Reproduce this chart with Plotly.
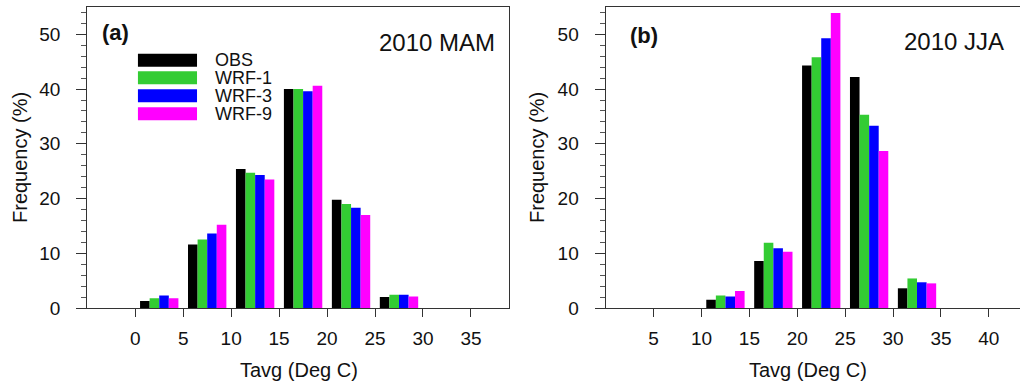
import plotly.graph_objects as go
from plotly.subplots import make_subplots

# Bin centres (Deg C) for the 5-degree temperature bins
bins_mam = [2.5, 7.5, 12.5, 17.5, 22.5, 27.5]
bins_jja = [12.5, 17.5, 22.5, 27.5, 32.5]

series_names = ["OBS", "WRF-1", "WRF-3", "WRF-9"]
series_colors = ["#000000", "#33cc33", "#0000ff", "#ff00ff"]

# Frequency (%) per bin, spring 2010
obs_mam = [1.3, 11.6, 25.4, 40.0, 19.8, 2.0]
wrf1_mam = [1.8, 12.5, 24.7, 40.0, 19.0, 2.4]
wrf3_mam = [2.3, 13.6, 24.3, 39.6, 18.3, 2.4]
wrf9_mam = [1.8, 15.2, 23.5, 40.6, 17.0, 2.1]

# Frequency (%) per bin, summer 2010
obs_jja = [1.5, 8.6, 44.3, 42.2, 3.6]
wrf1_jja = [2.3, 11.9, 45.8, 35.3, 5.4]
wrf3_jja = [2.1, 10.9, 49.3, 33.3, 4.7]
wrf9_jja = [3.1, 10.3, 53.9, 28.7, 4.5]

mam_series = [obs_mam, wrf1_mam, wrf3_mam, wrf9_mam]
jja_series = [obs_jja, wrf1_jja, wrf3_jja, wrf9_jja]

FONT = "Liberation Sans, Arial, sans-serif"
W, H = 1020, 385
TOP, BOTTOM = 7, 77
PLOT_H = H - TOP - BOTTOM


def paper_y(py):
    """Pixel row (from top of page) -> paper y coordinate."""
    return (H - BOTTOM - py) / PLOT_H


fig = make_subplots(rows=1, cols=2, horizontal_spacing=0.0)

for name, color, vals in zip(series_names, series_colors, mam_series):
    fig.add_trace(go.Bar(x=bins_mam, y=vals, name=name, marker_color=color,
                         marker_line_width=0, showlegend=False), row=1, col=1)
for name, color, vals in zip(series_names, series_colors, jja_series):
    fig.add_trace(go.Bar(x=bins_jja, y=vals, name=name, marker_color=color,
                         marker_line_width=0, showlegend=False), row=1, col=2)

axis_line = dict(showline=True, linecolor="#333333", linewidth=1.3, mirror=True,
                 showgrid=False, zeroline=False, tickcolor="#333333",
                 tickfont=dict(family=FONT, size=19, color="#111111"))
y_minor = dict(dtick=2, ticks="outside", ticklen=5, tickcolor="#555555", tickwidth=1)

xdom1 = [87.3 / W, 509.3 / W]
xdom2 = [605.7 / W, 1.0]

fig.update_layout(
    width=W, height=H,
    margin=dict(l=0, r=0, t=TOP, b=BOTTOM),
    plot_bgcolor="white", paper_bgcolor="white",
    barmode="group", bargap=0.2, bargroupgap=0.0,
    font=dict(family=FONT, color="#111111"),
    xaxis=dict(domain=xdom1, range=[-5, 39], tickmode="array",
               tickvals=[0, 5, 10, 15, 20, 25, 30, 35], ticks="outside",
               ticklen=8, tickwidth=1.3, ticklabelstandoff=5, **axis_line),
    xaxis2=dict(domain=xdom2, range=[0, 43.25], tickmode="array",
                tickvals=[5, 10, 15, 20, 25, 30, 35, 40], ticks="outside",
                ticklen=8, tickwidth=1.3, ticklabelstandoff=5, **axis_line),
    yaxis=dict(domain=[0, 1], range=[0, 55], dtick=10, ticks="outside",
               ticklen=10, tickwidth=1.3, ticklabelstandoff=12,
               minor=y_minor, **axis_line),
    yaxis2=dict(domain=[0, 1], range=[0, 55], dtick=10, ticks="outside",
                ticklen=10, tickwidth=1.3, ticklabelstandoff=12,
                minor=y_minor, **axis_line),
)

annotations = []
# Axis titles
for xc in [299, 808]:
    annotations.append(dict(text="Tavg (Deg C)", xref="paper", yref="paper",
                            x=xc / W, y=paper_y(370), xanchor="center", yanchor="middle",
                            showarrow=False, font=dict(family=FONT, size=20, color="#111111")))
for xc in [20, 537]:
    annotations.append(dict(text="Frequency (%)", xref="paper", yref="paper",
                            x=xc / W, y=paper_y(158), xanchor="center", yanchor="middle",
                            textangle=-90, showarrow=False,
                            font=dict(family=FONT, size=20, color="#111111")))

# Panel tags and season labels
annotations.append(dict(text="<b>(a)</b>", xref="x domain", yref="y domain",
                        x=0.030, y=0.915, xanchor="left", yanchor="middle",
                        showarrow=False, font=dict(family=FONT, size=22, color="#111111")))
annotations.append(dict(text="2010 MAM", xref="x domain", yref="y domain",
                        x=0.971, y=0.883, xanchor="right", yanchor="middle",
                        showarrow=False, font=dict(family=FONT, size=24, color="#111111")))
annotations.append(dict(text="<b>(b)</b>", xref="x2 domain", yref="y2 domain",
                        x=0.054, y=0.905, xanchor="left", yanchor="middle",
                        showarrow=False, font=dict(family=FONT, size=22, color="#111111")))
annotations.append(dict(text="2010 JJA", xref="x2 domain", yref="y2 domain",
                        x=0.966, y=0.885, xanchor="right", yanchor="middle",
                        showarrow=False, font=dict(family=FONT, size=24, color="#111111")))

# Legend in panel (a): wide colour swatches with labels
shapes = []
row_y = [0.823, 0.765, 0.705, 0.645]
for name, color, yc in zip(series_names, series_colors, row_y):
    shapes.append(dict(type="rect", xref="x domain", yref="y domain",
                       x0=0.120, x1=0.260, y0=yc - 0.0216, y1=yc + 0.0216,
                       fillcolor=color, line=dict(width=0)))
    annotations.append(dict(text=name, xref="x domain", yref="y domain",
                            x=0.298, y=yc, xanchor="left", yanchor="middle",
                            showarrow=False, font=dict(family=FONT, size=18, color="#111111")))

fig.update_layout(annotations=annotations, shapes=shapes)

fig.write_html("out.html")
